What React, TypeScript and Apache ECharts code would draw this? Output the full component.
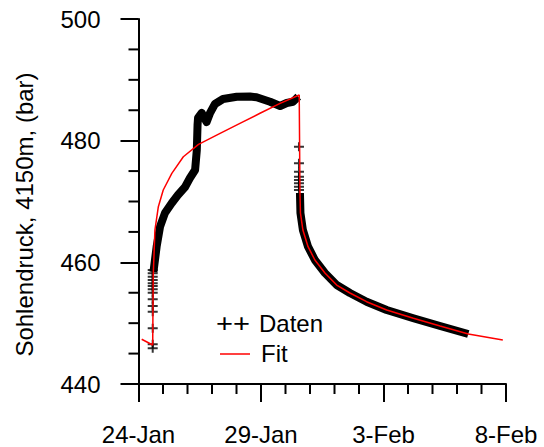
import React, { useEffect, useRef } from "react";
import * as echarts from "echarts";

// x values are days after 24-Jan 00:00
const xTickLabels = ["24-Jan", "29-Jan", "3-Feb", "8-Feb"];
const xMinorTicks = [1, 2, 3, 4, 6, 7, 8, 9, 11, 12, 13, 14];
const yMinorTicks = [445, 450, 455, 465, 470, 475, 485, 490, 495];
const yAxisTitle = "Sohlendruck, 4150m, (bar)";
const legendData = "Daten";
const legendFit = "Fit";

// measured data: dense band (build-up + plateau)
const dataRise: [number, number][] = [
  [0.61, 458.41], [0.74, 462.57], [0.88, 465.86], [1.08, 468.11], [1.36, 469.75],
  [1.61, 471.07], [1.9, 472.38], [2.1, 473.86], [2.31, 475.18], [2.38, 478.46],
  [2.41, 482.57], [2.43, 483.73], [2.58, 484.55], [2.78, 483.07], [2.92, 484.55],
  [3.12, 486.03], [3.45, 486.85], [4.01, 487.23], [4.55, 487.26], [4.82, 487.13],
  [5.37, 486.4], [5.78, 485.7], [6.05, 486.19], [6.31, 486.4], [6.52, 487.23],
];
// measured data: dense band (fall-off)
const dataFall: [number, number][] = [
  [6.59, 471.4], [6.61, 468.11], [6.71, 465.31], [6.92, 462.57], [7.2, 460.38],
  [7.61, 458.24], [8.09, 456.27], [8.63, 454.96], [9.31, 453.53], [10.13, 452.16],
  [11.22, 450.8], [12.31, 449.53], [13.46, 448.22],
];
// measured data: isolated points at the start of the build-up
const dataStartPoints: [number, number][] = [
  [0.58, 445.87], [0.58, 446.52], [0.58, 449.15], [0.58, 451.88], [0.58, 452.82],
  [0.58, 453.92], [0.58, 455.01], [0.58, 455.56], [0.58, 456.11], [0.58, 456.55],
  [0.58, 457.09], [0.58, 457.64], [0.58, 458.19], [0.58, 458.74],
];
// measured data: isolated points at the start of the fall-off
const dataDropPoints: [number, number][] = [
  [6.55, 479.01], [6.55, 476.28], [6.55, 474.9], [6.55, 474.08], [6.55, 473.53],
  [6.55, 472.98], [6.55, 472.43], [6.55, 471.89],
];
// fitted curve
const fitCurve: [number, number][] = [
  [0.13, 447.35], [0.58, 446.41], [0.6, 457.64], [0.67, 465.31], [0.81, 469.14],
  [1.01, 471.89], [1.36, 474.63], [1.83, 477.36], [2.45, 479.4], [3.33, 481.21],
  [4.14, 482.85], [4.96, 484.5], [5.78, 486.14], [6.56, 487.51],
  [6.59, 471.4], [6.61, 468.11], [6.71, 465.31], [6.92, 462.57], [7.2, 460.38],
  [7.61, 458.24], [8.09, 456.27], [8.63, 454.96], [9.31, 453.53], [10.13, 452.16],
  [11.22, 450.8], [12.31, 449.53], [13.46, 448.22], [14.87, 447.23],
];

const X_MIN = 0;
const X_MAX = 15;
const Y_MIN = 440;
const Y_MAX = 500;

const FONT = "'Liberation Sans', Arial, sans-serif";
const PLUS = "path://M0,3.5H10V5.5H0Z M4,0H6V9H4Z";
const MINOR_LEN = 10;

export default function App() {
  const ref = useRef<HTMLDivElement>(null);
  useEffect(() => {
    document.body.style.margin = "0";
    if (!ref.current) return;
    const chart = echarts.init(ref.current, undefined, { renderer: "svg" });
    const lineBlack = { color: "#000", width: 2 };
    const major = {
      axisLine: { show: true, onZero: false, lineStyle: lineBlack },
      axisTick: { show: true, inside: false, length: 18, lineStyle: lineBlack },
      splitLine: { show: false },
      axisLabel: { color: "#000", fontSize: 24, fontFamily: FONT, margin: 38 },
    };
    const legendGraphics = [
      {
        type: "text",
        left: 216,
        top: 310,
        style: { text: "++", fontSize: 26, fontFamily: FONT, fill: "#000" },
        scaleX: 1.12,
      },
      {
        type: "text",
        left: 259,
        top: 311,
        style: { text: legendData, fontSize: 24, fontFamily: FONT, fill: "#000" },
      },
      {
        type: "line",
        shape: { x1: 220, y1: 354, x2: 250, y2: 354 },
        style: { stroke: "#ff0000", lineWidth: 1.5 },
      },
      {
        type: "text",
        left: 261,
        top: 341,
        style: { text: legendFit, fontSize: 24, fontFamily: FONT, fill: "#000" },
      },
    ];
    chart.setOption({
      animation: false,
      backgroundColor: "#fff",
      grid: { left: 138.5, top: 19, width: 367.5, height: 365, containLabel: false },
      xAxis: {
        type: "value",
        min: X_MIN,
        max: X_MAX,
        interval: 5,
        ...major,
        axisLabel: {
          ...major.axisLabel,
          formatter: (v: number) => xTickLabels[Math.round(v / 5)] ?? "",
        },
      },
      yAxis: {
        type: "value",
        min: Y_MIN,
        max: Y_MAX,
        interval: 20,
        ...major,
        name: yAxisTitle,
        nameLocation: "middle",
        nameGap: 102,
        nameTextStyle: {
          color: "#000",
          fontSize: 24,
          fontFamily: FONT,
          padding: [0, 26, 0, 0],
        },
      },
      series: [
        {
          name: legendData,
          type: "line",
          data: dataRise,
          symbol: "none",
          lineStyle: { color: "#000", width: 8, join: "round" },
          z: 2,
        },
        {
          name: legendData,
          type: "line",
          data: dataFall,
          symbol: "none",
          lineStyle: { color: "#000", width: 8, join: "round" },
          z: 2,
        },
        {
          name: legendData,
          type: "scatter",
          data: [...dataStartPoints, ...dataDropPoints],
          symbol: PLUS,
          symbolSize: [10, 9],
          itemStyle: { color: "#000" },
          z: 2,
        },
        {
          name: legendFit,
          type: "line",
          data: fitCurve,
          symbol: "none",
          lineStyle: { color: "#ff0000", width: 1.5 },
          z: 5,
        },
      ],
      graphic: legendGraphics,
    });
    // minor ticks positioned through the chart's own axis scales
    const tickEls: any[] = [];
    xMinorTicks.forEach((v) => {
      const p = chart.convertToPixel({ gridIndex: 0 }, [v, Y_MIN]) as number[];
      tickEls.push({
        type: "line",
        shape: { x1: p[0], y1: p[1], x2: p[0], y2: p[1] + MINOR_LEN },
        style: { stroke: "#000", lineWidth: 2 },
      });
    });
    yMinorTicks.forEach((v) => {
      const p = chart.convertToPixel({ gridIndex: 0 }, [X_MIN, v]) as number[];
      tickEls.push({
        type: "line",
        shape: { x1: p[0], y1: p[1], x2: p[0] - MINOR_LEN, y2: p[1] },
        style: { stroke: "#000", lineWidth: 2 },
      });
    });
    chart.setOption({ graphic: [...legendGraphics, ...tickEls] });
    return () => chart.dispose();
  }, []);
  return <div ref={ref} style={{ width: 544, height: 447 }} />;
}
